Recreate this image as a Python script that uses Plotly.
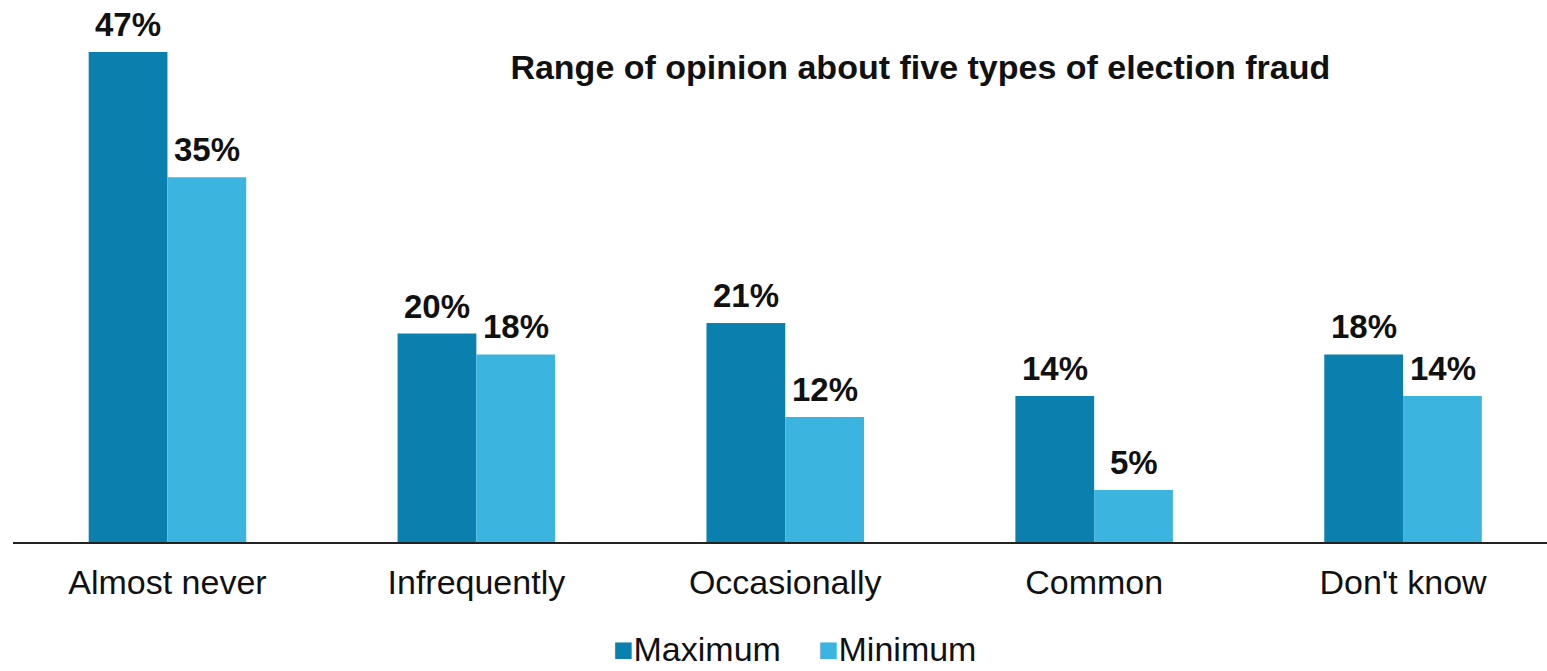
import plotly.graph_objects as go

categories = ["Almost never", "Infrequently", "Occasionally", "Common", "Don't know"]
maximum = [47, 20, 21, 14, 18]
minimum = [35, 18, 12, 5, 14]
series_names = ["Maximum", "Minimum"]
series_colors = ["#0B80AE", "#3CB4E0"]
title_text = "Range of opinion about five types of election fraud"

FONT = "Liberation Sans, Arial, sans-serif"
BAR_HALF = 39.5  # half a bar's width in pixels, used to centre value labels

fig = go.Figure()
for name, vals, col in zip(series_names, [maximum, minimum], series_colors):
    fig.add_trace(go.Bar(
        x=categories, y=vals, name=name,
        marker=dict(color=col, line=dict(width=0)),
        showlegend=False,
    ))

# value labels above each bar
for vals, dx in zip([maximum, minimum], [-BAR_HALF, BAR_HALF]):
    for cat, v in zip(categories, vals):
        fig.add_annotation(
            x=cat, y=v, xref="x", yref="y",
            text=f"<b>{v}%</b>", showarrow=False,
            xanchor="center", yanchor="bottom", xshift=dx, yshift=7,
            font=dict(family=FONT, size=33, color="#111111"),
        )

fig.update_layout(
    width=1547, height=671,
    margin=dict(l=13, r=0, t=0, b=129),
    paper_bgcolor="white", plot_bgcolor="white",
    barmode="group", bargap=0.49, bargroupgap=0,
    font=dict(family=FONT, color="#111111"),
    title=dict(
        text=f"<b>{title_text}</b>",
        x=915 / 1547, xanchor="center", xref="paper",
        y=1 - 67 / 671, yanchor="middle", yref="container",
        font=dict(family=FONT, size=34, color="#111111"),
    ),
)
fig.update_xaxes(
    range=[-0.5, 4.466], showline=True, linecolor="#222222", linewidth=2,
    showgrid=False, ticks="", ticklabelstandoff=9,
    tickfont=dict(family=FONT, size=34, color="#111111"),
)
fig.update_yaxes(range=[0, 52], visible=False, showgrid=False, zeroline=False)

# legend row: coloured square followed by the series name, sitting on the bottom edge
legend_x = [690, 891]
for name, col, lx in zip(series_names, series_colors, legend_x):
    fig.add_annotation(
        x=lx / 1547, y=(671 - 670 - 129) / 542, xref="paper", yref="paper",
        text=f"<span style='color:{col}'>■</span>{name}",
        showarrow=False, xanchor="center", yanchor="bottom",
        font=dict(family=FONT, size=34, color="#111111"),
    )

fig.write_html("out.html")
